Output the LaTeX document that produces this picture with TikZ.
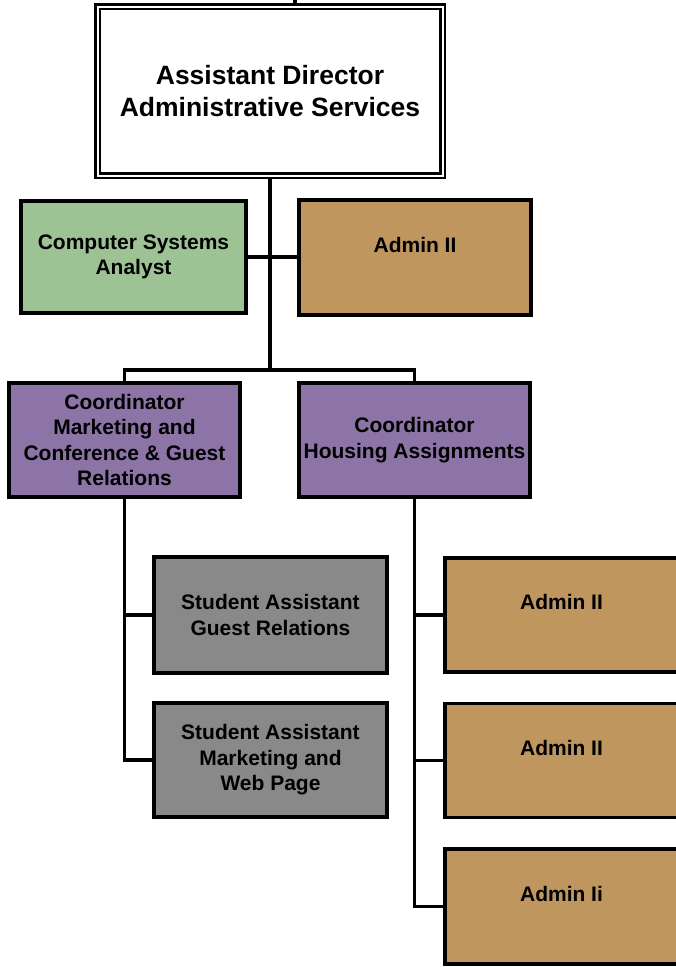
\documentclass[tikz,border=0pt]{standalone}
\usepackage{fontspec}
\setmainfont{Liberation Sans}
\definecolor{cgreen}{HTML}{9DC395}
\definecolor{ctan}{HTML}{BE965E}
\definecolor{cpurple}{HTML}{8C74A6}
\definecolor{cgray}{HTML}{898989}
\tikzset{
  box/.style={draw=black, line width=3.2pt, rectangle, align=center, inner sep=0pt,
    font=\bfseries\fontsize{21}{25.5}\selectfont},
  topbox/.style={draw=black, double=white, line width=2.7pt, double distance=2pt, rectangle,
    align=center, fill=white, inner sep=0pt, font=\bfseries\fontsize{26.5}{32}\selectfont},
  conn/.style={draw=black, line width=3.2pt},
}
\begin{document}
\begin{tikzpicture}[x=1pt, y=-1pt]
\useasboundingbox (0,0) rectangle (676,967);
\begin{scope}
\clip (0,0) rectangle (676,967);
\coordinate (bar) at (270,370);
\coordinate (upper) at (295,0);
% nodes
\node[topbox, minimum width=345pt, minimum height=169pt] (top) at (270,91) {Assistant Director\\Administrative Services};
\node[box, fill=cgreen, minimum width=225pt, minimum height=112pt] (csa) at (133.5,257) {Computer Systems\\Analyst};
\node[box, fill=ctan, minimum width=232pt, minimum height=115pt] (adm0) at (415,257.5) {Admin II\\\mbox{}};
\node[box, fill=cpurple, minimum width=231pt, minimum height=114pt] (coordL) at (124.5,440) {Coordinator\\Marketing and\\Conference \& Guest\\Relations};
\node[box, fill=cpurple, minimum width=231pt, minimum height=114pt] (coordR) at (414.5,440) {Coordinator\\Housing Assignments};
\node[box, fill=cgray, minimum width=233pt, minimum height=116pt] (sa1) at (270.5,615) {Student Assistant\\Guest Relations};
\node[box, fill=cgray, minimum width=233pt, minimum height=114pt] (sa2) at (270.5,760) {Student Assistant\\Marketing and\\Web Page};
\node[box, fill=ctan, minimum width=233pt, minimum height=114pt] (adm1) at (561.5,615) {Admin II\\\mbox{}};
\node[box, fill=ctan, minimum width=233pt, minimum height=114pt] (adm2) at (561.5,760.5) {Admin II\\\mbox{}};
\node[box, fill=ctan, minimum width=233pt, minimum height=115pt] (adm3) at (561.5,906.5) {Admin Ii\\\mbox{}};
% connectors
\draw[conn] (upper) -- (upper |- top.north);
\draw[conn] (top.south) -- (bar);
\draw[conn] (coordL.north) |- (bar) -| (coordR.north);
\draw[conn] (csa.east) -- (csa.east -| adm0.west);
\draw[conn] (coordL.south) |- (sa2.west);
\draw[conn] (coordL.south |- sa1.west) -- (sa1.west);
\draw[conn] (coordR.south) |- (adm3.west);
\draw[conn] (coordR.south |- adm1.west) -- (adm1.west);
\draw[conn] (coordR.south |- adm2.west) -- (adm2.west);
\end{scope}
\end{tikzpicture}
\end{document}
